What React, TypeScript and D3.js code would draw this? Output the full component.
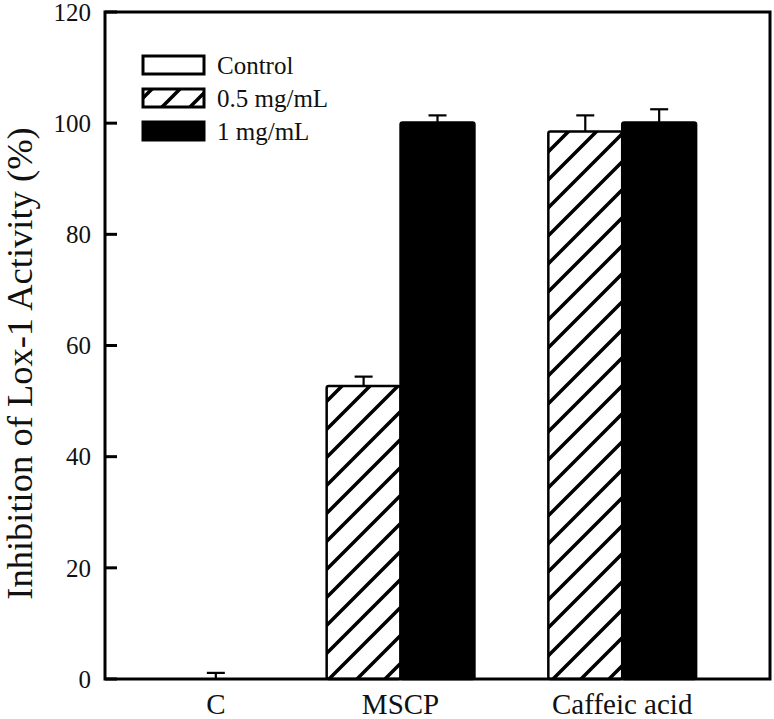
import React from 'react';
import * as d3 from 'd3';

const categories = ['C', 'MSCP', 'Caffeic acid'];
const seriesNames = ['Control', '0.5 mg/mL', '1 mg/mL'];
const controlValues: (number | null)[] = [0, null, null];
const controlErrors: (number | null)[] = [1.1, null, null];
const halfValues: (number | null)[] = [null, 52.7, 98.5];
const halfErrors: (number | null)[] = [null, 1.7, 2.9];
const oneValues: (number | null)[] = [null, 100.1, 100.1];
const oneErrors: (number | null)[] = [null, 1.3, 2.4];
const yTicks = [0, 20, 40, 60, 80, 100, 120];
const yLabel = 'Inhibition of Lox-1 Activity (%)';

const seriesValues = [controlValues, halfValues, oneValues];
const seriesErrors = [controlErrors, halfErrors, oneErrors];
const seriesFills = ['#ffffff', 'url(#hatch)', '#000000'];

const W = 774;
const H = 719;
const M = { left: 105, right: 4, top: 12, bottom: 40 };
const FONT = '"Liberation Serif", "Times New Roman", serif';

export default function App() {
  const x = d3.scaleBand<string>().domain(categories).range([M.left, W - M.right]).padding(0);
  const slot = d3.scaleBand<number>().domain([0, 1, 2]).range([0, x.bandwidth()]).padding(0);
  const y = d3.scaleLinear().domain([0, 120]).range([H - M.bottom, M.top]);

  type Bar = { cat: string; s: number; v: number; e: number; x0: number; w: number };
  const bars: Bar[] = [];
  const labelX: { cat: string; cx: number }[] = [];
  categories.forEach((cat, i) => {
    const present = seriesValues
      .map((vals, s) => ({ s, v: vals[i], e: seriesErrors[s][i] }))
      .filter((d) => d.v !== null);
    const n = present.length;
    const centers: number[] = [];
    present.forEach((d, j) => {
      const k = n === 1 ? 1 : j;
      const x0 = (x(cat) as number) + (slot(k) as number);
      const w = slot.bandwidth();
      bars.push({ cat, s: d.s, v: d.v as number, e: (d.e as number) || 0, x0, w });
      centers.push(x0 + w / 2);
    });
    labelX.push({ cat, cx: d3.mean(centers) as number });
  });

  const legendX = 143;
  const legendY0 = 65;
  const legendDy = 33;

  return (
    <svg
      width={W}
      height={H}
      style={{ position: 'absolute', left: 0, top: 0, background: '#fff' }}
      fontFamily={FONT}
    >
      <defs>
        <pattern id="hatch" patternUnits="userSpaceOnUse" width={28} height={28}>
          <rect width={28} height={28} fill="#fff" />
          <path d="M-7,7 L7,-7 M0,28 L28,0 M21,35 L35,21" stroke="#000" strokeWidth={3.5} />
        </pattern>
      </defs>

      {/* bars */}
      {bars.map((b, i) => (
        <g key={i}>
          <rect
            x={b.x0}
            y={y(b.v)}
            width={b.w}
            height={y(0) - y(b.v)}
            fill={seriesFills[b.s]}
            stroke="#000"
            strokeWidth={2.5}
            rx={2}
          />
          <line x1={b.x0 + b.w / 2} x2={b.x0 + b.w / 2} y1={y(b.v)} y2={y(b.v + b.e)} stroke="#000" strokeWidth={2.2} />
          <line x1={b.x0 + b.w / 2 - 9} x2={b.x0 + b.w / 2 + 9} y1={y(b.v + b.e)} y2={y(b.v + b.e)} stroke="#000" strokeWidth={2.2} />
        </g>
      ))}

      {/* frame */}
      <rect
        x={M.left}
        y={M.top}
        width={W - M.right - M.left}
        height={y(0) - M.top}
        fill="none"
        stroke="#000"
        strokeWidth={3}
      />

      {/* y ticks */}
      {yTicks.map((t) => (
        <g key={t}>
          <line x1={M.left} x2={M.left + 12} y1={y(t)} y2={y(t)} stroke="#000" strokeWidth={3} />
          <text x={M.left - 14} y={y(t)} dy="0.35em" textAnchor="end" fontSize={25} fill="#111">
            {t}
          </text>
        </g>
      ))}

      {/* x labels */}
      {labelX.map((d) => (
        <text key={d.cat} x={d.cx} y={y(0) + 35} textAnchor="middle" fontSize={29} fill="#111">
          {d.cat}
        </text>
      ))}

      {/* y label */}
      <text
        transform={`translate(32, ${(M.top + y(0)) / 2 + 18}) rotate(-90)`}
        textAnchor="middle"
        fontSize={36.5}
        fill="#111"
      >
        {yLabel}
      </text>

      {/* legend */}
      {seriesNames.map((name, s) => (
        <g key={name} transform={`translate(${legendX}, ${legendY0 + s * legendDy})`}>
          <rect x={0} y={-9} width={61} height={18} fill={seriesFills[s]} stroke="#000" strokeWidth={3} />
          <text x={74} y={0} dy="0.35em" fontSize={25} fill="#111">
            {name}
          </text>
        </g>
      ))}
    </svg>
  );
}
